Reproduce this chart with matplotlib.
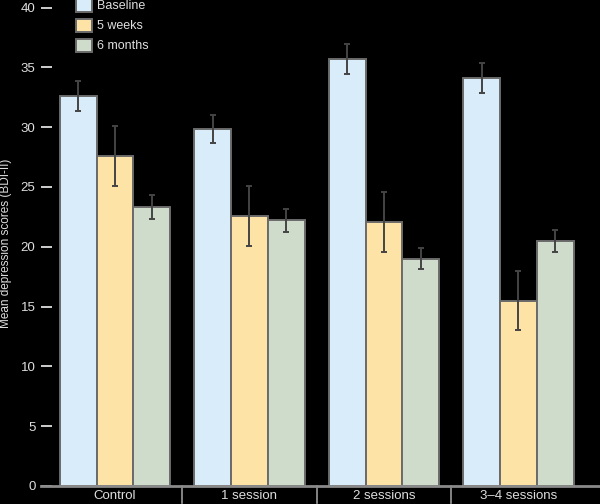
import matplotlib
matplotlib.use("Agg")
import matplotlib.pyplot as plt
import numpy as np

plt.rcParams['font.family'] = ['Liberation Sans', 'DejaVu Sans']

# data
groups = ["Control", "1 session", "2 sessions", "3\u20134 sessions"]
series = ["Baseline", "5 weeks", "6 months"]
baseline = [32.6, 29.85, 35.7, 34.1]
weeks5 = [27.6, 22.6, 22.1, 15.5]
months6 = [23.35, 22.2, 19.0, 20.5]
err_baseline = [1.25, 1.2, 1.25, 1.25]
err_weeks5 = [2.5, 2.5, 2.5, 2.5]
err_months6 = [1.0, 0.95, 0.9, 0.9]
yticks = [0, 5, 10, 15, 20, 25, 30, 35, 40]

colors = ["#d8edf9", "#fde3a6", "#cfdbcb"]
txt = "#dedede"

fig = plt.figure(figsize=(6, 5.04), dpi=100, facecolor="black")
ax = fig.add_axes([41 / 600, 18 / 504, 559 / 600, 486 / 504], facecolor="black")

x = np.arange(len(groups))
w = 0.273
values = [baseline, weeks5, months6]
errs = [err_baseline, err_weeks5, err_months6]
handles = []
for i, (vals, e) in enumerate(zip(values, errs)):
    xs = x + (i - 1) * w
    b = ax.bar(xs, vals, w, color=colors[i], edgecolor="#6a6a6a", linewidth=1.4,
               label=series[i], zorder=2)
    handles.append(b)
    ax.errorbar(xs, vals, yerr=e, fmt="none", ecolor="#444444", elinewidth=1.4,
                capsize=2.2, capthick=1.4, zorder=3)

ax.set_xlim(-0.55, 3.606)
ax.set_ylim(0, 40.63)
ax.set_yticks(yticks)
ax.set_xticks(x)
ax.set_xticklabels(groups)

for s in ["top", "right", "left"]:
    ax.spines[s].set_visible(False)
ax.spines["bottom"].set_color("#8a8a8a")
ax.spines["bottom"].set_linewidth(2)

ax.tick_params(axis="y", direction="in", length=8, width=1.3, color=txt,
               labelcolor=txt, labelsize=9.5, pad=4)
ax.tick_params(axis="x", length=0, labelcolor=txt, labelsize=9.5, pad=3)

# separators between groups below the axis
for sx in (x[:-1] + 0.5):
    ax.plot([sx, sx], [0, -0.034], color="#9a9a9a", lw=1.2,
            transform=ax.get_xaxis_transform(), clip_on=False)

ax.set_ylabel("Mean depression scores (BDI-II)", color=txt, fontsize=8.5)
ax.yaxis.set_label_coords(-0.052, 0.5)

leg = fig.legend(handles=handles, loc="upper left", bbox_to_anchor=(76 / 600, 1.003),
                 frameon=False, fontsize=9, labelcolor=txt, handlelength=1.25,
                 handleheight=1.25, labelspacing=0.5, handletextpad=0.45,
                 borderpad=0, borderaxespad=0)

fig.savefig("out.png", dpi=100, facecolor="black")
